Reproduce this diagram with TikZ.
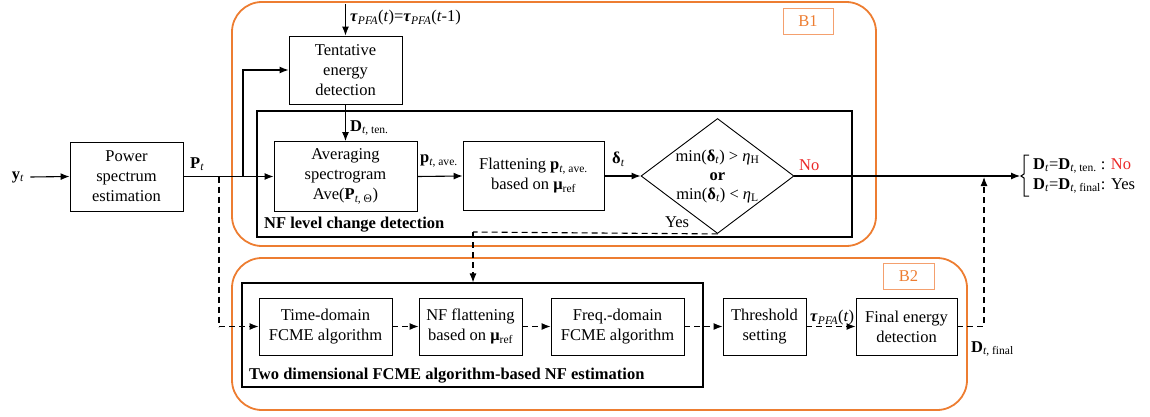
\documentclass[tikz,border=0pt]{standalone}
\usepackage{fontspec}
\setmainfont{Liberation Serif}
\usetikzlibrary{arrows.meta,shapes.geometric}
\definecolor{orng}{RGB}{237,125,49}
\definecolor{lorng}{RGB}{244,160,110}
\definecolor{nored}{RGB}{235,40,40}
\newcommand{\sbs}[1]{\textsubscript{#1}}
\begin{document}
\begin{tikzpicture}[x=1pt,y=-1pt,
  font=\fontsize{16.5}{20}\selectfont,
  box/.style={draw,line width=0.9pt,align=center,inner sep=0pt},
  frame/.style={draw,line width=1.1pt,inner sep=0pt},
  orbox/.style={draw=orng,line width=1.8pt,rounded corners=30pt},
  arr/.style={line width=1.1pt,-{Latex[length=9pt,width=7pt]}},
  dasharr/.style={line width=1.1pt,dash pattern=on 6pt off 4pt,-{Latex[length=9pt,width=7pt]}},
  dline/.style={line width=1.1pt,dash pattern=on 6pt off 4pt},
  lbl/.style={inner sep=0pt}]
\useasboundingbox (0,0) rectangle (1150,417);
% orange groups
\draw[orbox] (232,2) rectangle (876,246);
\draw[orbox] (232,258) rectangle (967,410);
\node[draw=lorng,line width=0.9pt,text=orng,minimum width=50pt,minimum height=26pt,inner sep=0pt] (b1) at (808,21) {B1};
\node[draw=lorng,line width=0.9pt,text=orng,minimum width=51pt,minimum height=26pt,inner sep=0pt] (b2) at (908.5,276) {B2};
% inner frames
\node[frame,minimum width=595pt,minimum height=126pt] (nfbox) at (554.5,174) {};
\node[lbl,anchor=west,font=\fontsize{16.5}{20}\selectfont\bfseries] (nftitle) at (264,225) {NF level change detection};
\node[frame,minimum width=461pt,minimum height=104pt] (fcbox) at (472.5,335) {};
\node[lbl,anchor=west,font=\fontsize{16.5}{20}\selectfont\bfseries] (fctitle) at (249,376) {Two dimensional FCME algorithm-based NF estimation};
% blocks
\node[lbl] (yt) at (18,177) {\textbf{y}\sbs{\textit{t}}};
\node[box,minimum width=113pt,minimum height=69pt] (pse) at (126.5,176.5) {Power\\spectrum\\estimation};
\node[box,minimum width=113pt,minimum height=68pt] (ted) at (345.5,70) {Tentative\\energy\\detection};
\node[box,minimum width=143pt,minimum height=70pt] (avg) at (345.5,176.5) {Averaging\\spectrogram\\Ave(\textbf{P}\sbs{\textit{t}, Θ})};
\node[box,minimum width=141pt,minimum height=69pt] (flat) at (533.5,176) {Flattening \textbf{p}\sbs{\textit{t}, ave.}\\ based on \textbf{μ}\sbs{ref}};
\node[draw,line width=0.9pt,diamond,minimum width=153pt,minimum height=115pt,inner sep=0pt] (dia) at (717.5,176) {};
\node[lbl,align=center] (diatxt) at (717.5,176) {min(\textbf{δ}\sbs{\textit{t}}) > \textit{η}\sbs{H}\\[-1pt] \textbf{or}\\[-1pt] min(\textbf{δ}\sbs{\textit{t}}) < \textit{η}\sbs{L}};
\node[box,minimum width=133pt,minimum height=57pt] (tdf) at (325.5,326.5) {Time-domain\\FCME algorithm};
\node[box,minimum width=103pt,minimum height=57pt] (nff) at (470.5,326.5) {NF flattening\\based on \textbf{μ}\sbs{ref}};
\node[box,minimum width=133pt,minimum height=57pt] (fdf) at (617.5,326.5) {Freq.-domain\\FCME algorithm};
\node[box,minimum width=83pt,minimum height=57pt] (ths) at (764.5,326.5) {Threshold\\setting};
\node[box,minimum width=101pt,minimum height=57pt] (fed) at (906.5,326.5) {Final energy\\detection};
% coordinates
\coordinate (br) at (243,176.5);
\coordinate (top) at (345.5,4);
\coordinate (brc) at (1020,176);
\coordinate (up) at (984,177);
\coordinate (ldash) at (219,176.5);
\coordinate (ycorner) at (473,232);
% connectors
\draw[arr] (yt.east) ++(6,0) -- (pse.west);
\draw[arr] (pse.east) -- (avg.west);
\draw[arr] (br) |- (ted.west);
\draw[arr] (top) -- (ted.north);
\draw[arr] (ted.south) -- (avg.north);
\draw[arr] (avg.east) -- (flat.west);
\draw[arr] (flat.east) -- (dia.west);
\draw[arr] (dia.east) -- (brc);
\draw[dline] (dia.south) -- (ycorner);
\draw[dasharr] (ycorner) -- (ycorner |- fcbox.north);
\draw[dline] (ldash) -- (219,326.5);
\draw[dasharr] (219,326.5) -- (tdf.west);
\draw[dasharr] (tdf.east) -- (nff.west);
\draw[dasharr] (nff.east) -- (fdf.west);
\draw[dasharr] (fdf.east) -- (ths.west);
\draw[dasharr] (ths.east) -- (fed.west);
\draw[dasharr] (fed.east) -| (up);
% brace
\draw[line width=1pt] (1029,155) -- (1024,155) -- (1024,174) -- (1021,176) -- (1024,178) -- (1024,196) -- (1029,196);
% labels
\node[lbl,anchor=west] (ptl) at (190,164) {\textbf{P}\sbs{\textit{t}}};
\node[lbl,anchor=west] (taul) at (350,18) {\textbf{\textit{τ}}\sbs{\textit{PFA}}(\textit{t})=\textbf{\textit{τ}}\sbs{\textit{PFA}}(\textit{t}-1)};
\node[lbl,anchor=west] (dten) at (350,128) {\textbf{D}\sbs{\textit{t}, ten.}};
\node[lbl,anchor=west] (pave) at (420,161) {\textbf{p}\sbs{\textit{t}, ave.}};
\node[lbl,anchor=west] (dl) at (612,159) {\textbf{δ}\sbs{\textit{t}}};
\node[lbl,anchor=west,text=nored] (nol) at (799,165) {No};
\node[lbl] (yesl) at (677,222) {Yes};
\node[lbl,anchor=west] (r1) at (1033,166) {\textbf{D}\sbs{\textit{t}}=\textbf{D}\sbs{\textit{t}, ten.} : \textcolor{nored}{No}};
\node[lbl,anchor=west] (r2) at (1033,186) {\textbf{D}\sbs{\textit{t}}=\textbf{D}\sbs{\textit{t}, final}: Yes};
\node[lbl,anchor=west] (taut) at (810,318) {\textbf{\textit{τ}}\sbs{\textit{PFA}}(\textit{t})};
\node[lbl,anchor=west] (dfin) at (971,349) {\textbf{D}\sbs{\textit{t}, final}};
\end{tikzpicture}
\end{document}
